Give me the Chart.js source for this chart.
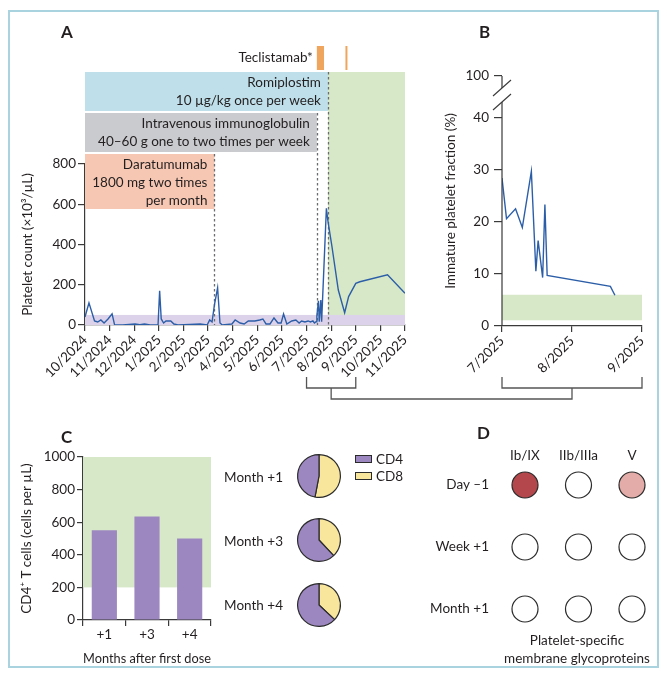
<!DOCTYPE html>
<html>
<head>
<meta charset="utf-8">
<script src="https://cdn.jsdelivr.net/npm/chart.js@4.4.1/dist/chart.umd.min.js"></script>
<style>
html,body{margin:0;padding:0;background:#fff;}
#fig{position:relative;width:667px;height:680px;font-family:Lato,"Open Sans",sans-serif;color:#231f20;overflow:hidden;}
#frame{position:absolute;left:8px;top:10px;width:651px;height:658px;border:2px solid #a9d3df;box-sizing:border-box;}
canvas{position:absolute;}
.pl{position:absolute;font-weight:bold;font-size:17px;line-height:20px;}
.tx{position:absolute;font-size:13.5px;line-height:16px;white-space:nowrap;}
.sw{position:absolute;width:17px;height:8px;border:1px solid #2b2b2b;box-sizing:border-box;}
#footD{position:absolute;left:477px;top:631px;width:200px;text-align:center;font-size:13.5px;line-height:18px;}
svg{position:absolute;left:0;top:0;}
</style>
</head>
<body>
<div id="fig">
  <div id="frame"></div>
  <canvas id="cA" width="420" height="380" style="left:8px;top:10px;width:420px;height:380px"></canvas>
  <canvas id="cB" width="228" height="340" style="left:430px;top:40px;width:228px;height:340px"></canvas>
  <canvas id="cC" width="225" height="245" style="left:8px;top:425px;width:225px;height:245px"></canvas>
  <canvas id="cP0" width="46" height="46" style="left:296px;top:453px;width:46px;height:46px"></canvas>
  <canvas id="cP1" width="46" height="46" style="left:296px;top:517px;width:46px;height:46px"></canvas>
  <canvas id="cP2" width="46" height="46" style="left:296px;top:582px;width:46px;height:46px"></canvas>
  <canvas id="cD" width="228" height="245" style="left:430px;top:425px;width:228px;height:245px"></canvas>
  <div class="pl" style="left:61px;top:22px">A</div>
  <div class="pl" style="left:479px;top:22px">B</div>
  <div class="pl" style="left:61px;top:427px">C</div>
  <div class="pl" style="left:477px;top:423px">D</div>
  <div id="pieLabels"></div>
  <div id="legend"></div>
  <div id="footD"></div>
  <svg id="brk" width="667" height="680"></svg>
</div>
<script>
// ---------------- DATA ----------------
// Panel A: platelet count (x10^3/µL)
const monthTickLabels = ['10/2024','11/2024','12/2024','1/2025','2/2025','3/2025','4/2025','5/2025','6/2025','7/2025','8/2025','9/2025','10/2025','11/2025'];
const plateletDates = [
 '2024-10-01','2024-10-06','2024-10-13','2024-10-17','2024-10-21','2024-10-25','2024-10-30','2024-11-04','2024-11-07','2024-11-17',
 '2024-12-02','2024-12-08','2024-12-14','2024-12-21','2024-12-31','2025-01-02','2025-01-04','2025-01-07','2025-01-10','2025-01-16',
 '2025-01-20','2025-01-25','2025-02-08','2025-02-20','2025-02-28','2025-03-03','2025-03-06','2025-03-09','2025-03-13','2025-03-16',
 '2025-03-19','2025-03-31','2025-04-04','2025-04-10','2025-04-15','2025-04-20','2025-04-28','2025-05-04','2025-05-08','2025-05-12',
 '2025-05-17','2025-05-22','2025-05-27','2025-05-31','2025-06-03','2025-06-07','2025-06-13','2025-06-18','2025-06-22','2025-06-25',
 '2025-06-29','2025-07-03','2025-07-06','2025-07-09','2025-07-11','2025-07-13','2025-07-14','2025-07-16','2025-07-17','2025-07-19',
 '2025-07-20','2025-07-26','2025-07-28','2025-08-02','2025-08-10','2025-08-18','2025-08-23','2025-09-01','2025-09-06','2025-10-10',
 '2025-11-01'];
const plateletValues = [
 40,110,20,15,25,10,30,55,2,0,
 5,2,5,0,0,170,30,10,20,20,
 5,0,3,5,0,25,15,100,185,10,
 0,5,25,10,5,20,20,25,30,5,
 5,35,10,10,55,5,20,25,10,20,
 15,20,15,20,10,16,45,120,16,124,
 16,580,515,390,174,61,141,207,215,249,
 158];
const plateletNormalBand = [0, 50];
const treatmentLabels = [
  ['Romiplostim','10 µg/kg once per week'],
  ['Intravenous immunoglobulin','40–60 g one to two times per week'],
  ['Daratumumab','1800 mg two times','per month']];
const treatmentStart = ['2024-10-01','2024-10-01','2024-10-01'];
const treatmentEnd   = ['2025-07-28','2025-07-14','2025-03-09'];
const teclistamabLabel = 'Teclistamab*';
const teclistamabStart = ['2025-07-14','2025-08-19'];
const teclistamabEnd   = ['2025-07-23','2025-08-21'];
const responsePeriod = ['2025-07-28','2025-11-01'];

// Panel B: immature platelet fraction (%)
const ipfTickDates = ['2025-07-01','2025-08-01','2025-09-01'];
const ipfTickLabels = ['7/2025','8/2025','9/2025'];
const ipfDates = ['2025-07-01','2025-07-03','2025-07-07','2025-07-10','2025-07-14','2025-07-16','2025-07-17','2025-07-19','2025-07-20','2025-07-21','2025-08-18','2025-08-20'];
const ipfValues = [28.4,20.6,22.5,18.9,29.7,10.5,16.4,9.3,23.3,9.7,7.6,5.9];
const ipfTickValues = [0,10,20,30,40,100];
const ipfNormalRange = [1.1, 6];

// Panel C: CD4+ T cells
const cd4Labels = ['+1','+3','+4'];
const cd4Values = [550, 635, 500];
const cd4NormalRange = [200, 1000];
const pieLabels = ['Month +1','Month +3','Month +4'];
const subsetNames = ['CD4','CD8'];
const cd4Share = [47, 62, 63];
const cd8Share = [53, 38, 37];

// Panel D: platelet-specific antibodies (0 none, 1 weak, 2 strong)
const glycoLabels = ['Ib/IX','IIb/IIIa','V'];
const timeLabels = ['Day –1','Week +1','Month +1'];
const antibodyLevel = [[2,0,1],[0,0,0],[0,0,0]];
const glycoFooter = ['Platelet-specific','membrane glycoproteins'];

// ---------------- STYLE ----------------
const TXT = '#231f20', AX = '#3a3a3a';
const C_GREEN = '#d7e8c8', C_PURPLE_BAND = '#dcd3ea', C_LINE = '#2c5ea8';
const C_BAR = '#9c87c0', C_CD8 = '#f8e69c';
const C_TREAT = ['#bfe0ea','#c9cbce','#f6c8b3'];
const C_TEC = '#f0a55e';
const LEVEL_COLORS = ['#ffffff','#e3aca8','#b4474c'];
const FONT_SIZE = 13.5;

Chart.defaults.font.family = 'Lato';
Chart.defaults.font.size = FONT_SIZE;
Chart.defaults.color = TXT;
Chart.defaults.animation = false;
Chart.defaults.responsive = false;
Chart.defaults.plugins.legend.display = false;
Chart.defaults.plugins.tooltip.enabled = false;

function monthPos(s){
  const [y,m,d] = s.split('-').map(Number);
  const dim = new Date(y, m, 0).getDate();
  return (y-2024)*12 + (m-10) + (d-1)/dim;
}
const fixW = w => s => { s.width = w; };
const fixH = h => s => { s.height = h; };
const tickGrid = len => ({drawOnChartArea:false, tickLength:len, color:AX, lineWidth:1.2});
const axBorder = {color:AX, width:1.2};

// ---------------- PANEL A ----------------
const ROW_TOP = [62,103,144], ROW_BOT = [101,142,199];
const TEC_TOP = 36, TEC_BOT = 60;
const panelAPlugin = {
  id:'panelA',
  beforeDatasetsDraw(chart){
    const {ctx, chartArea:ca, scales:{x,y}} = chart;
    const X = d => x.getPixelForValue(monthPos(d));
    ctx.save();
    ctx.fillStyle = C_GREEN;
    const g0 = X(responsePeriod[0]), g1 = X(responsePeriod[1]);
    ctx.fillRect(g0, ROW_TOP[0], g1-g0, ca.bottom-ROW_TOP[0]);
    const b0 = y.getPixelForValue(plateletNormalBand[0]), b1 = y.getPixelForValue(plateletNormalBand[1]);
    ctx.fillStyle = C_PURPLE_BAND;
    ctx.fillRect(ca.left, b1, ca.right-ca.left, b0-b1);
    ctx.font = FONT_SIZE + 'px Lato';
    ctx.textAlign = 'right'; ctx.textBaseline = 'middle';
    treatmentLabels.forEach((lines,i)=>{
      const x0 = X(treatmentStart[i]), x1 = X(treatmentEnd[i]);
      ctx.fillStyle = C_TREAT[i];
      ctx.fillRect(x0, ROW_TOP[i], x1-x0, ROW_BOT[i]-ROW_TOP[i]);
      ctx.fillStyle = TXT;
      lines.forEach((t,k)=> ctx.fillText(t, x1-7, ROW_TOP[i]+10.5+k*18));
    });
    ctx.strokeStyle = '#6b6c6f'; ctx.lineWidth = 1.3; ctx.setLineDash([2.5,2.5]);
    treatmentLabels.forEach((_,i)=>{
      const xe = Math.round(X(treatmentEnd[i]))+0.5;
      ctx.beginPath(); ctx.moveTo(xe, ROW_TOP[i]); ctx.lineTo(xe, ca.bottom+ (i===0?4:0)); ctx.stroke();
    });
    ctx.setLineDash([]);
    ctx.fillStyle = C_TEC;
    teclistamabStart.forEach((s,i)=>{
      const x0 = X(s), x1 = X(teclistamabEnd[i]);
      ctx.fillRect(x0, TEC_TOP, Math.max(x1-x0,2), TEC_BOT-TEC_TOP);
    });
    ctx.fillStyle = TXT;
    ctx.fillText(teclistamabLabel, X(teclistamabStart[0])-4, (TEC_TOP+TEC_BOT)/2);
    ctx.restore();
  }
};
const chartA = new Chart(document.getElementById('cA'), {
  type:'line',
  data:{datasets:[{data: plateletDates.map((d,i)=>({x:monthPos(d), y:plateletValues[i]})),
    borderColor:C_LINE, borderWidth:1.4, pointRadius:0, tension:0, fill:false}]},
  options:{
    layout:{padding:{top:154,left:10,right:23,bottom:0}},
    scales:{
      x:{type:'linear', min:0, max:monthTickLabels.length-1, afterFit:fixH(65),
        afterBuildTicks:s=>{ s.ticks = monthTickLabels.map((_,i)=>({value:i})); },
        ticks:{autoSkip:false, minRotation:45, maxRotation:45, padding:1, callback:(v,i)=>monthTickLabels[i]},
        grid:tickGrid(6), border:axBorder},
      y:{min:0, max:800, afterFit:fixW(67),
        ticks:{stepSize:200, padding:2, callback:v=>String(v)},
        grid:tickGrid(7), border:axBorder,
        title:{display:true, text:'Platelet count (×10³/µL)', padding:{top:2,bottom:0}}}
    }
  },
  plugins:[panelAPlugin]
});

// ---------------- PANEL B ----------------
const IPF_BREAK_POS = 48; // drawn position of the "100" tick on the broken axis
const panelBPlugin = {
  id:'panelB',
  beforeDatasetsDraw(chart){
    const {ctx, chartArea:ca, scales:{y}} = chart;
    const y0 = y.getPixelForValue(ipfNormalRange[0]), y1 = y.getPixelForValue(ipfNormalRange[1]);
    ctx.save(); ctx.fillStyle = C_GREEN; ctx.fillRect(ca.left, y1, ca.right-ca.left, y0-y1); ctx.restore();
  },
  afterDraw(chart){
    const {ctx, chartArea:ca} = chart;
    const xa = ca.left, up = ca.top+12, lo = ca.top+26;
    ctx.save(); ctx.strokeStyle = AX; ctx.lineWidth = 1.2;
    ctx.beginPath(); ctx.moveTo(xa, ca.top); ctx.lineTo(xa, up);
    ctx.moveTo(xa, lo); ctx.lineTo(xa, ca.bottom); ctx.stroke();
    [up, lo].forEach(c=>{ ctx.beginPath(); ctx.moveTo(xa-9, c+8); ctx.lineTo(xa+9, c-8); ctx.stroke(); });
    ctx.restore();
  }
};
const chartB = new Chart(document.getElementById('cB'), {
  type:'line',
  data:{datasets:[{data: ipfDates.map((d,i)=>({x:monthPos(d), y:ipfValues[i]})),
    borderColor:C_LINE, borderWidth:1.4, pointRadius:0, tension:0, fill:false}]},
  options:{
    layout:{padding:{top:36,left:10,right:16,bottom:0}},
    scales:{
      x:{type:'linear', min:monthPos(ipfTickDates[0]), max:monthPos(ipfTickDates[ipfTickDates.length-1]), afterFit:fixH(54),
        afterBuildTicks:s=>{ s.ticks = ipfTickDates.map(d=>({value:monthPos(d)})); },
        ticks:{autoSkip:false, minRotation:45, maxRotation:45, padding:1, callback:(v,i)=>ipfTickLabels[i]},
        grid:tickGrid(6), border:axBorder},
      y:{min:0, max:IPF_BREAK_POS, afterFit:fixW(62),
        afterBuildTicks:s=>{ s.ticks = ipfTickValues.map(v=>({value: v>IPF_BREAK_POS ? IPF_BREAK_POS : v})); },
        ticks:{padding:5, callback:(v,i)=>String(ipfTickValues[i])},
        grid:tickGrid(8), border:{display:false},
        title:{display:true, text:'Immature platelet fraction (%)', padding:{top:3,bottom:0}}}
    }
  },
  plugins:[panelBPlugin]
});

// ---------------- PANEL C ----------------
const panelCPlugin = {
  id:'panelC',
  beforeDatasetsDraw(chart){
    const {ctx, chartArea:ca, scales:{y}} = chart;
    const y0 = y.getPixelForValue(cd4NormalRange[0]), y1 = y.getPixelForValue(cd4NormalRange[1]);
    ctx.save(); ctx.fillStyle = C_GREEN; ctx.fillRect(ca.left, y1, ca.right-ca.left, y0-y1); ctx.restore();
  }
};
new Chart(document.getElementById('cC'), {
  type:'bar',
  data:{labels:cd4Labels, datasets:[{data:cd4Values, backgroundColor:C_BAR, barPercentage:0.59, categoryPercentage:1}]},
  options:{
    layout:{padding:{top:32,left:10,right:22,bottom:0}},
    scales:{
      x:{afterFit:fixH(50), grid:Object.assign(tickGrid(6),{offset:true}), border:axBorder,
        ticks:{padding:1},
        title:{display:true, text:'Months after first dose', padding:{top:0,bottom:3}}},
      y:{min:0, max:1000, afterFit:fixW(65), ticks:{stepSize:200, padding:2, callback:v=>String(v)},
        grid:tickGrid(6), border:axBorder,
        title:{display:true, text:'CD4⁺ T cells (cells per µL)', padding:{top:1,bottom:0}}}
    }
  },
  plugins:[panelCPlugin]
});

// pies
pieLabels.forEach((lab,i)=>{
  new Chart(document.getElementById('cP'+i), {
    type:'pie',
    data:{labels:[subsetNames[1], subsetNames[0]], datasets:[{data:[cd8Share[i], cd4Share[i]],
      backgroundColor:[C_CD8, C_BAR], borderColor:'#2b2b2b', borderWidth:1.2}]},
    options:{layout:{padding:1}}
  });
});
const pieLabelBox = document.getElementById('pieLabels');
const PIE_Y = [477, 541, 605];
pieLabels.forEach((lab,i)=>{
  const d = document.createElement('div'); d.className='tx'; d.textContent = lab;
  d.style.right = (667-283)+'px'; d.style.top = (PIE_Y[i]-8)+'px'; d.style.textAlign='right';
  pieLabelBox.appendChild(d);
});
const legendBox = document.getElementById('legend');
[C_BAR, C_CD8].forEach((c,i)=>{
  const s = document.createElement('div'); s.className='sw'; s.style.background=c;
  s.style.left='355px'; s.style.top=(455+i*16.5)+'px'; legendBox.appendChild(s);
  const t = document.createElement('div'); t.className='tx'; t.textContent=subsetNames[i];
  t.style.left='376px'; t.style.top=(451+i*16.5)+'px'; legendBox.appendChild(t);
});

// ---------------- PANEL D ----------------
const dPoints = [], dColors = [];
timeLabels.forEach((t,i)=> glycoLabels.forEach((g,j)=>{
  dPoints.push({x:g, y:t, r:13}); dColors.push(LEVEL_COLORS[antibodyLevel[i][j]]);
}));
new Chart(document.getElementById('cD'), {
  type:'bubble',
  data:{datasets:[{data:dPoints, backgroundColor:dColors, borderColor:'#2b2b2b', borderWidth:1.2, clip:false}]},
  options:{
    layout:{padding:{top:0,left:0,right:26,bottom:61}},
    scales:{
      x:{type:'category', labels:glycoLabels, position:'top', offset:false, afterFit:fixH(60),
        grid:{display:false, drawTicks:false}, border:{display:false}, ticks:{padding:21}},
      y:{type:'category', labels:timeLabels, offset:false, afterFit:fixW(95),
        grid:{display:false, drawTicks:false}, border:{display:false}, ticks:{padding:36}}
    }
  }
});
document.getElementById('footD').innerHTML = glycoFooter.join('<br>');

// ---------------- connector brackets ----------------
(function(){
  const ax = chartA.scales.x, caB = chartB.chartArea;
  const aL = 8 + ax.getPixelForValue(monthPos(ipfTickDates[0]));
  const aR = 8 + ax.getPixelForValue(monthPos(ipfTickDates[ipfTickDates.length-1]));
  const bL = 430 + caB.left, bR = 430 + caB.right;
  const yT = 377, yH = 388, yC = 399;
  const aM = (aL+aR)/2, bM = (bL+bR)/2;
  const p = `M${aL} ${yT}V${yH}H${aR}V${yT} M${bL} ${yT}V${yH}H${bR}V${yT} M${aM} ${yH}V${yC}H${bM}V${yH}`;
  document.getElementById('brk').innerHTML = `<path d="${p}" fill="none" stroke="#555" stroke-width="1.3"/>`;
})();
</script>
</body>
</html>
